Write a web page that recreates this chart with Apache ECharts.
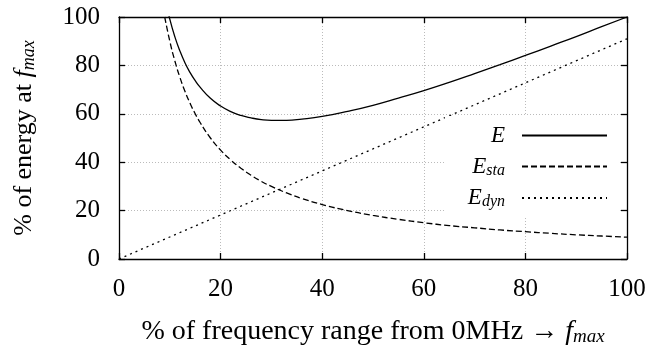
<!DOCTYPE html>
<html>
<head>
<meta charset="utf-8">
<script src="https://cdn.jsdelivr.net/npm/echarts@6/dist/echarts.min.js"></script>
<style>
  html, body { margin: 0; padding: 0; background: #fff; }
  #chart { width: 667px; height: 356px; }
</style>
</head>
<body>
<div id="chart"></div>
<script>
// values (x = % of frequency range, y = % of energy)
var staticEnergy = [
  [9, 100], [10, 90], [11, 81.8], [12, 75], [13, 69.2], [14, 64.3], [15, 60],
  [16, 56.3], [18, 50], [20, 45], [22, 40.9], [24, 37.5], [26, 34.6], [28, 32.1],
  [30, 30], [33, 27.3], [36, 25], [40, 22.5], [45, 20], [50, 18], [55, 16.4],
  [60, 15], [65, 13.8], [70, 12.9], [75, 12], [80, 11.3], [85, 10.6], [90, 10],
  [95, 9.5], [100, 9]
]
var totalEnergy = [
  [9, 108.2], [10, 99.1], [11, 91.8], [12, 85.9], [13, 81.0], [14, 77.0], [15, 73.7],
  [16, 70.9], [18, 66.4], [20, 63.2], [22, 60.9], [24, 59.3], [26, 58.3], [28, 57.6],
  [30, 57.3], [33, 57.3], [36, 57.8], [40, 58.9], [45, 61.0], [50, 63.5], [55, 66.5],
  [60, 69.6], [65, 73.0], [70, 76.6], [75, 80.3], [80, 84.1], [85, 88.0], [90, 91.9],
  [95, 96.0], [100, 100]
]
var dynamicEnergy = [[0, 0], [100, 91]]
var seriesNames = ['E', 'E_sta', 'E_dyn']

var font = 'Liberation Serif'
var black = '#000'

// italic math bits: {i|f}{s|max}
var mathRich = function (size, subSize, drop) {
  return {
    i: { fontFamily: font, fontStyle: 'italic', fontSize: size, color: black },
    s: { fontFamily: font, fontStyle: 'italic', fontSize: subSize, color: black, padding: [drop, 0, 0, 0] }
  }
}

var chart = echarts.init(document.getElementById('chart'))

var axisCommon = {
  type: 'value',
  min: 0,
  max: 100,
  interval: 20,
  axisLine: { show: true, onZero: false, lineStyle: { color: black, width: 1.3 } },
  axisTick: { show: true, inside: true, length: 6, lineStyle: { color: black, width: 1.3 } }
}
var gridLine = { show: true, lineStyle: { color: '#bbb', type: [1, 2], width: 1 } }

chart.setOption({
  animation: false,
  grid: {
    left: 119,
    right: 40,
    top: 17,
    bottom: 97
  },
  legend: {
    data: seriesNames,
    orient: 'vertical',
    right: 47,
    top: 116,
    align: 'right',
    itemWidth: 85,
    itemHeight: 14,
    itemGap: 8,
    padding: [8, 12, 7, 23],
    backgroundColor: '#fff',
    selectedMode: false,
    itemStyle: { opacity: 0 },
    formatter: function (name) {
      if (name === 'E') return '{i|E}'
      return '{i|E}{s|' + name.split('_')[1] + '}'
    },
    textStyle: {
      fontFamily: font,
      fontSize: 23,
      color: black,
      padding: [0, 12, 0, 0],
      rich: mathRich(23, 16, 8)
    }
  },
  xAxis: [
    Object.assign({}, axisCommon, {
      position: 'bottom',
      name: '% of frequency range from 0MHz \u2192 {i|f}{s|max}',
      nameLocation: 'middle',
      nameGap: 59,
      nameTextStyle: {
        fontFamily: font,
        fontSize: 28,
        color: black,
        rich: mathRich(28, 19, 9)
      },
      axisLabel: { margin: 18, fontFamily: font, fontSize: 25, color: black },
      splitLine: gridLine
    }),
    Object.assign({}, axisCommon, {
      position: 'top',
      axisLabel: { show: false },
      splitLine: { show: false }
    })
  ],
  yAxis: [
    Object.assign({}, axisCommon, {
      position: 'left',
      name: '% of energy at {i|f}{s|max}',
      nameLocation: 'middle',
      nameGap: 81,
      nameTextStyle: {
        fontFamily: font,
        fontSize: 26,
        color: black,
        rich: mathRich(26, 18, 9)
      },
      axisLabel: { margin: 19, fontFamily: font, fontSize: 25, color: black },
      splitLine: gridLine
    }),
    Object.assign({}, axisCommon, {
      position: 'right',
      axisLabel: { show: false },
      splitLine: { show: false }
    })
  ],
  series: [
    {
      name: 'E',
      type: 'line',
      smooth: true,
      symbol: 'none',
      clip: true,
      lineStyle: { color: black, width: 1.3, type: 'solid' },
      itemStyle: { color: black },
      data: totalEnergy
    },
    {
      name: 'E_sta',
      type: 'line',
      smooth: true,
      symbol: 'none',
      clip: true,
      lineStyle: { color: black, width: 1.3, type: [6, 3] },
      itemStyle: { color: black },
      data: staticEnergy
    },
    {
      name: 'E_dyn',
      type: 'line',
      symbol: 'none',
      clip: true,
      lineStyle: { color: black, width: 1.3, type: [2, 4] },
      itemStyle: { color: black },
      data: dynamicEnergy
    }
  ]
})
</script>
</body>
</html>
